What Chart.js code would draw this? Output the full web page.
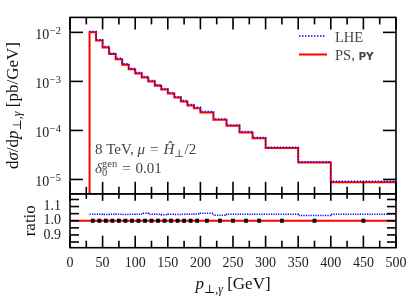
<!DOCTYPE html>
<html><head><meta charset="utf-8">
<script src="https://cdn.jsdelivr.net/npm/chart.js@4.4.1/dist/chart.umd.min.js"></script>
<style>html,body{margin:0;padding:0;background:#fff;}#wrap{width:415px;height:299px;}</style>
</head><body><div id="wrap"><canvas id="c" width="415" height="299"></canvas></div>
<script>
// ---- data ----
const binEdges = [30,40,50,60,70,80,90,100,110,120,130,140,150,160,170,180,190,200,220,240,260,280,300,350,400,500];
const psValues = [1.00e-2,6.82e-3,4.94e-3,3.63e-3,2.84e-3,2.19e-3,1.76e-3,1.45e-3,1.20e-3,1.00e-3,
                  8.20e-4,6.80e-4,5.65e-4,4.70e-4,3.90e-4,3.24e-4,2.85e-4,2.32e-4,1.66e-4,1.24e-4,
                  9.10e-5,6.90e-5,4.36e-5,2.22e-5,8.80e-6];
const lheValues = [1.045e-2,7.13e-3,5.16e-3,3.79e-3,2.97e-3,2.29e-3,1.84e-3,1.52e-3,1.26e-3,1.046e-3,
                   8.57e-4,7.09e-4,5.90e-4,4.91e-4,4.08e-4,3.39e-4,2.98e-4,2.44e-4,1.72e-4,1.30e-4,
                   9.52e-5,7.21e-5,4.56e-5,2.30e-5,9.20e-6];
const ratioLHE = [1.045,1.045,1.044,1.045,1.046,1.044,1.045,1.046,1.052,1.046,
                  1.045,1.043,1.045,1.044,1.046,1.045,1.047,1.052,1.038,1.045,
                  1.046,1.045,1.045,1.037,1.045];
const ratioPS = [1,1,1,1,1,1,1,1,1,1,1,1,1,1,1,1,1,1,1,1,1,1,1,1,1];
const refRatio = 1;
const xTicks = [0,50,100,150,200,250,300,350,400,450,500];
const yTickExps = [-5,-4,-3,-2];
const ratioTicks = [0.9,1.0,1.1];
const ratioMinorTicks = [0.85,0.95,1.05,1.15];
const xRange = [0,500];
const yRange = [5.1e-6,2.02e-2];
const ratioRange = [0.81,1.19];
const legendNames = ['LHE','PS, '];
const legendTag = 'PY';
const annotLine1 = ['8 TeV, ','μ','=','Ĥ','⊥','/2'];
const annotLine2 = ['δ','0','gen','=','0.01'];
const xTitle = ['p','⊥,','γ',' [GeV]'];
const yTitle = ['d','σ','/d','p','⊥,','γ',' [pb/GeV]'];
const ratioTitle = 'ratio';

// ---- helpers ----
const SERIF = '"Liberation Serif", "DejaVu Serif", serif';
const RED = '#ff0000', BLUE = '#0000ff';
function histPoints(vals, base) {
  const pts = [];
  if (base !== undefined) pts.push({x: binEdges[0], y: base});
  vals.forEach((v,i) => pts.push({x: binEdges[i], y: v}));
  pts.push({x: binEdges[binEdges.length-1], y: vals[vals.length-1]});
  return pts;
}
const binCenters = binEdges.slice(0,-1).map((e,i) => (e + binEdges[i+1]) / 2);

function drawParts(ctx, parts, x, y, align) {
  let w = 0;
  parts.forEach(p => { ctx.font = p.f; p.w = ctx.measureText(p.t).width + (p.gap||0)*2; if (!p.noAdv) w += p.w; });
  let cx = align === 'center' ? x - w/2 : x;
  ctx.textAlign = 'left'; ctx.textBaseline = 'alphabetic';
  parts.forEach(p => { ctx.font = p.f; ctx.fillText(p.t, cx + (p.gap||0), y + (p.dy||0)); if (!p.noAdv) cx += p.w; });
}

const framePlugin = {
  id: 'frame',
  afterDraw(chart) {
    const ctx = chart.ctx;
    const xs = chart.scales.x, ys = chart.scales.y, rs = chart.scales.y2;
    const L = chart.chartArea.left, R = chart.chartArea.right;
    ctx.save();
    ctx.strokeStyle = '#000'; ctx.lineWidth = 1.6; ctx.setLineDash([]);
    ctx.strokeRect(L, ys.top, R-L, ys.bottom-ys.top);
    ctx.strokeRect(L, rs.top, R-L, rs.bottom-rs.top);
    const seg = (x1,y1,x2,y2) => { ctx.beginPath(); ctx.moveTo(x1,y1); ctx.lineTo(x2,y2); ctx.stroke(); };
    // x ticks
    const minorX = xTicks.slice(0,-1).map((v,i)=>(v+xTicks[i+1])/2);
    xTicks.forEach(v => {
      const px = xs.getPixelForValue(v);
      seg(px, ys.top, px, ys.top+12); seg(px, ys.bottom, px, ys.bottom-12);
      seg(px, rs.top, px, rs.top+7); seg(px, rs.bottom, px, rs.bottom-12);
    });
    minorX.forEach(v => {
      const px = xs.getPixelForValue(v);
      seg(px, ys.top, px, ys.top+7); seg(px, ys.bottom, px, ys.bottom-7);
      seg(px, rs.top, px, rs.top+5); seg(px, rs.bottom, px, rs.bottom-7);
    });
    // log y ticks
    yTickExps.forEach(e => {
      const py = ys.getPixelForValue(Math.pow(10,e));
      seg(L, py, L+13, py); seg(R, py, R-13, py);
    });
    // ratio y ticks
    ratioTicks.concat(ratioMinorTicks).forEach(v => {
      const py = rs.getPixelForValue(v);
      seg(L, py, L+9, py); seg(R, py, R-9, py);
    });
    // log y labels
    ctx.fillStyle = '#222';
    yTickExps.forEach(e => {
      const py = ys.getPixelForValue(Math.pow(10,e));
      ctx.font = '10.5px ' + SERIF; ctx.textAlign = 'right'; ctx.textBaseline = 'alphabetic';
      const sup = '−' + Math.abs(e);
      const sw = ctx.measureText(sup).width;
      ctx.fillText(sup, L-9, py+2);
      ctx.font = '14px ' + SERIF;
      ctx.fillText('10', L-9-sw-0.5, py+6.7);
    });
    // axis titles
    ctx.fillStyle = '#111';
    const it = s => 'italic ' + s + 'px ' + SERIF, rm = s => s + 'px ' + SERIF;
    drawParts(ctx, [
      {t:xTitle[0], f:it(17)}, {t:xTitle[1], f:rm(12), dy:3.5}, {t:xTitle[2], f:it(12), dy:3.5}, {t:xTitle[3], f:rm(17)}
    ], (L+R)/2, 289, 'center');
    ctx.save(); ctx.translate(17.5, (ys.top+ys.bottom)/2); ctx.rotate(-Math.PI/2);
    drawParts(ctx, [
      {t:yTitle[0], f:rm(17)}, {t:yTitle[1], f:it(17)}, {t:yTitle[2], f:rm(17)}, {t:yTitle[3], f:it(17)},
      {t:yTitle[4], f:rm(12), dy:3.5}, {t:yTitle[5], f:it(12), dy:3.5}, {t:yTitle[6], f:rm(17)}
    ], 0, 0, 'center');
    ctx.restore();
    ctx.save(); ctx.translate(35, (rs.top+rs.bottom)/2); ctx.rotate(-Math.PI/2);
    drawParts(ctx, [{t:ratioTitle, f:rm(17)}], 0, 0, 'center');
    ctx.restore();
    // annotation
    ctx.fillStyle = '#444';
    drawParts(ctx, [
      {t:annotLine1[0], f:rm(15)}, {t:annotLine1[1], f:it(15)}, {t:annotLine1[2], f:rm(15), gap:5},
      {t:annotLine1[3], f:it(15)}, {t:annotLine1[4], f:rm(10.5), dy:3}, {t:annotLine1[5], f:rm(15), gap:0.5}
    ], 95, 154, 'left');
    drawParts(ctx, [
      {t:annotLine2[0], f:it(15)}, {t:annotLine2[1], f:rm(10.5), dy:3.5, noAdv:true}, {t:annotLine2[2], f:rm(10.5), dy:-6},
      {t:annotLine2[3], f:rm(15), gap:5}, {t:annotLine2[4], f:rm(15)}
    ], 95, 172.5, 'left');
    // legend
    ctx.lineWidth = 1.5; ctx.strokeStyle = BLUE; ctx.setLineDash([1.5,1.5]);
    seg(299, 36, 326, 36);
    ctx.setLineDash([]); ctx.lineWidth = 2; ctx.strokeStyle = RED;
    seg(299, 54.5, 327, 54.5);
    ctx.fillStyle = '#444';
    drawParts(ctx, [{t:legendNames[0], f:rm(14.5)}], 335, 41.5, 'left');
    drawParts(ctx, [{t:legendNames[1], f:rm(14.5)}, {t:legendTag, f:'bold 10.5px "DejaVu Sans", sans-serif'}], 335, 59.5, 'left');
    ctx.restore();
  }
};

new Chart(document.getElementById('c'), {
  type: 'line',
  data: {
    datasets: [
      { label: 'PS', data: histPoints(psValues, yRange[0]), yAxisID: 'y', stepped: 'before',
        borderColor: RED, borderWidth: 2, pointRadius: 0, fill: false, order: 2 },
      { label: 'LHE', data: histPoints(lheValues), yAxisID: 'y', stepped: 'before',
        borderColor: BLUE, borderWidth: 1.3, borderDash: [1.3,1.7], pointRadius: 0, fill: false, order: 1 },
      { label: 'PS/PS', data: [{x: xRange[0], y: refRatio}, {x: xRange[1], y: refRatio}], yAxisID: 'y2',
        borderColor: RED, borderWidth: 2, pointRadius: 0, fill: false, order: 3 },
      { label: 'LHE/PS', data: histPoints(ratioLHE), yAxisID: 'y2', stepped: 'before',
        borderColor: BLUE, borderWidth: 1.5, borderDash: [1.2,1.2], pointRadius: 0, fill: false, order: 4 },
      { label: 'PS markers', data: binCenters.map((c,i)=>({x:c, y:ratioPS[i]})), yAxisID: 'y2', showLine: false,
        pointStyle: 'rect', pointRadius: 2.7, pointBorderWidth: 0, pointBackgroundColor: '#000', order: 0 }
    ]
  },
  options: {
    responsive: false, animation: false, devicePixelRatio: 1, events: [],
    layout: { padding: { top: 12.7, right: 19, left: 0, bottom: 0 } },
    plugins: { legend: { display: false }, tooltip: { enabled: false }, title: { display: false } },
    scales: {
      x: { type: 'linear', min: xRange[0], max: xRange[1], position: 'bottom',
        grid: { display: false, drawTicks: false }, border: { display: false },
        afterBuildTicks: s => { s.ticks = xTicks.map(v => ({value: v})); },
        afterFit: s => { s.height = 51.3; },
        ticks: { padding: 7, maxRotation: 0, autoSkip: false, color: '#222',
          font: { family: SERIF, size: 14 }, callback: v => String(v) } },
      y: { type: 'logarithmic', min: yRange[0], max: yRange[1], position: 'left', stack: 'v', stackWeight: 180, weight: 2,
        grid: { display: false, drawTicks: false }, border: { display: false },
        afterBuildTicks: s => { s.ticks = yTickExps.map(e => ({value: Math.pow(10, e)})); },
        afterFit: s => { s.width = 70; },
        ticks: { display: false } },
      y2: { type: 'linear', axis: 'y', min: ratioRange[0], max: ratioRange[1], position: 'left', stack: 'v', stackWeight: 55, weight: 1,
        grid: { display: false, drawTicks: false }, border: { display: false },
        afterBuildTicks: s => { s.ticks = ratioTicks.map(v => ({value: v})); },
        afterFit: s => { s.width = 70; },
        ticks: { padding: 9, autoSkip: false, color: '#222', font: { family: SERIF, size: 14 }, callback: v => v.toFixed(1) } }
    }
  },
  plugins: [framePlugin]
});
</script></body></html>
